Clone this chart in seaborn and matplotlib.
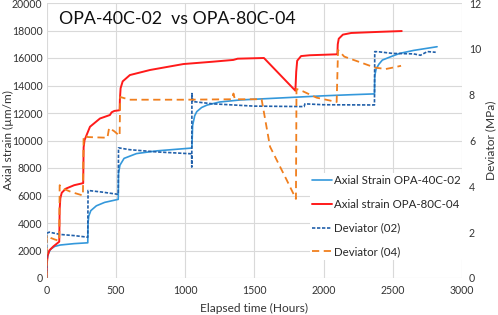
import numpy as np
import pandas as pd
import matplotlib
matplotlib.use("Agg")
import matplotlib.pyplot as plt
import seaborn as sns

# ---------------- data ----------------
t_s02 = [0, 2, 10, 30, 60, 100, 200, 298, 300, 305, 320, 360, 420, 518,
         520, 530, 560, 650, 800, 1048, 1050, 1055, 1070, 1085, 1120, 1160,
         1250, 1400, 1600, 1800, 2000, 2200, 2368, 2370, 2380, 2400, 2425,
         2500, 2552, 2650, 2820]
v_s02 = [0, 1200, 1700, 2100, 2300, 2400, 2500, 2560, 4000, 4500, 4900, 5250,
         5500, 5720, 7600, 8200, 8700, 9050, 9250, 9450, 9550, 11100, 11800,
         12100, 12400, 12580, 12800, 12950, 13050, 13150, 13250, 13330, 13390,
         14700, 15200, 15550, 15850, 16150, 16340, 16550, 16820]

t_s04 = [0, 2, 8, 20, 50, 92, 95, 100, 110, 140, 200, 265, 268, 275, 314,
         386, 458, 470, 490, 528, 530, 535, 550, 602, 747, 988, 1200, 1349,
         1380, 1570, 1797, 1803, 1810, 1838, 1900, 2100, 2103, 2110, 2140,
         2200, 2400, 2565]
v_s04 = [0, 1000, 1600, 2000, 2300, 2640, 5000, 5800, 6200, 6500, 6750, 6900,
         9500, 10036, 11000, 11600, 11855, 12050, 12150, 12200, 13000, 13800,
         14300, 14760, 15127, 15560, 15730, 15860, 15950, 16000, 13620, 15000,
         15800, 16140, 16200, 16270, 17000, 17400, 17700, 17820, 17900, 17960]

t_d02 = [0, 1, 20, 100, 200, 298, 300, 400, 518, 520, 600, 800, 1048, 1049,
         1050, 1056, 1200, 1500, 1860, 1866, 2000, 2368, 2370, 2400, 2500,
         2650, 2700, 2750, 2810]
v_d02 = [0, 1.95, 2.0, 1.9, 1.85, 1.78, 3.82, 3.75, 3.65, 5.68, 5.6, 5.5,
         5.42, 4.84, 8.05, 7.7, 7.6, 7.5, 7.48, 7.6, 7.56, 7.55, 9.88, 9.87,
         9.8, 9.78, 9.72, 9.88, 9.85]

t_d04 = [0, 1, 30, 60, 92, 95, 120, 180, 263, 268, 300, 440, 452, 490, 528,
         532, 560, 600, 1000, 1340, 1350, 1360, 1553, 1614, 1734, 1801, 1805,
         1850, 1950, 2095, 2105, 2150, 2285, 2372, 2450, 2516, 2560]
v_d04 = [0, 1.85, 1.75, 1.68, 1.62, 4.05, 3.9, 3.75, 3.6, 6.2, 6.15, 6.12,
         6.55, 6.4, 6.2, 7.9, 7.85, 7.78, 7.78, 7.8, 8.05, 7.8, 7.8, 5.73,
         4.28, 3.45, 8.25, 8.15, 7.87, 7.68, 9.95, 9.66, 9.37, 9.18, 9.12,
         9.2, 9.26]

labels = ["Axial Strain OPA-40C-02", "Axial strain OPA-80C-04",
          "Deviator (02)", "Deviator (04)"]
title = "OPA-40C-02  vs OPA-80C-04"
x_ticks = [0, 500, 1000, 1500, 2000, 2500, 3000]
yl_ticks = list(range(0, 20001, 2000))
yr_ticks = list(range(0, 13, 2))

# ---------------- style ----------------
sns.set_theme(style="white")
plt.rcParams["font.family"] = ["Lato", "DejaVu Sans"]

c_s02 = "#3498DB"
c_s04 = "#FF1A1A"
c_d02 = "#2160AA"
c_d04 = "#F07F1E"

fig = plt.figure(figsize=(4.98, 3.15), dpi=100)
ax = fig.add_axes([46.5 / 498, 1 - 278 / 315, (462 - 46.5) / 498, (278 - 3) / 315])
ax2 = ax.twinx()

df_s02 = pd.DataFrame({"t": t_s02, "v": v_s02})
df_s04 = pd.DataFrame({"t": t_s04, "v": v_s04})
df_d02 = pd.DataFrame({"t": t_d02, "v": v_d02})
df_d04 = pd.DataFrame({"t": t_d04, "v": v_d04})

sns.lineplot(data=df_s02, x="t", y="v", ax=ax, color=c_s02, lw=1.2,
             estimator=None, sort=False, label=labels[0], legend=False)
sns.lineplot(data=df_s04, x="t", y="v", ax=ax, color=c_s04, lw=1.4,
             estimator=None, sort=False, label=labels[1], legend=False)
sns.lineplot(data=df_d02, x="t", y="v", ax=ax2, color=c_d02, lw=1.2,
             estimator=None, sort=False, label=labels[2], legend=False)
sns.lineplot(data=df_d04, x="t", y="v", ax=ax2, color=c_d04, lw=1.3,
             estimator=None, sort=False, label=labels[3], legend=False)
ax2.lines[0].set_dashes([2, 1])
ax2.lines[1].set_dashes([4, 2.5])

ax.set_xlim(0, 3000)
ax.set_ylim(0, 20000)
ax2.set_ylim(0, 12)
ax.set_xticks(x_ticks)
ax.set_yticks(yl_ticks)
ax2.set_yticks(yr_ticks)
ax.grid(True, color="#D9D9D9", lw=0.8)
ax2.grid(False)
for a in (ax, ax2):
    for s in a.spines.values():
        s.set_visible(False)
    a.tick_params(length=0, labelsize=7.6, colors="#333333", pad=3)
ax.tick_params(axis="x", pad=5)
ax2.tick_params(pad=5)

ax.set_xlabel("Elapsed time (Hours)", fontsize=8.6, color="#333333", labelpad=5)
ax.set_ylabel("Axial strain (µm/m)", fontsize=8.6, color="#333333")
ax.yaxis.set_label_coords((14 - 46.5) / (462 - 46.5), 0.5)
ax2.set_ylabel("Deviator (MPa)", fontsize=8.6, color="#333333", labelpad=3)

ax.text(0.03, 0.94, title, transform=ax.transAxes, fontsize=12.8,
        color="#111111", va="center", ha="left")

h1, l1 = ax.get_legend_handles_labels()
h2, l2 = ax2.get_legend_handles_labels()
leg = ax2.legend(h1 + h2, l1 + l2, loc="upper left",
                 bbox_to_anchor=((310 - 46.5) / (462 - 46.5), (278 - 173) / 275),
                 frameon=True, fontsize=8.3, handlelength=1.7, handletextpad=0.2,
                 labelspacing=1.1, borderpad=0.2, borderaxespad=0)
leg.get_frame().set_edgecolor("none")
leg.get_frame().set_facecolor("white")
leg.get_frame().set_alpha(1)

fig.savefig("out.png", dpi=100)
